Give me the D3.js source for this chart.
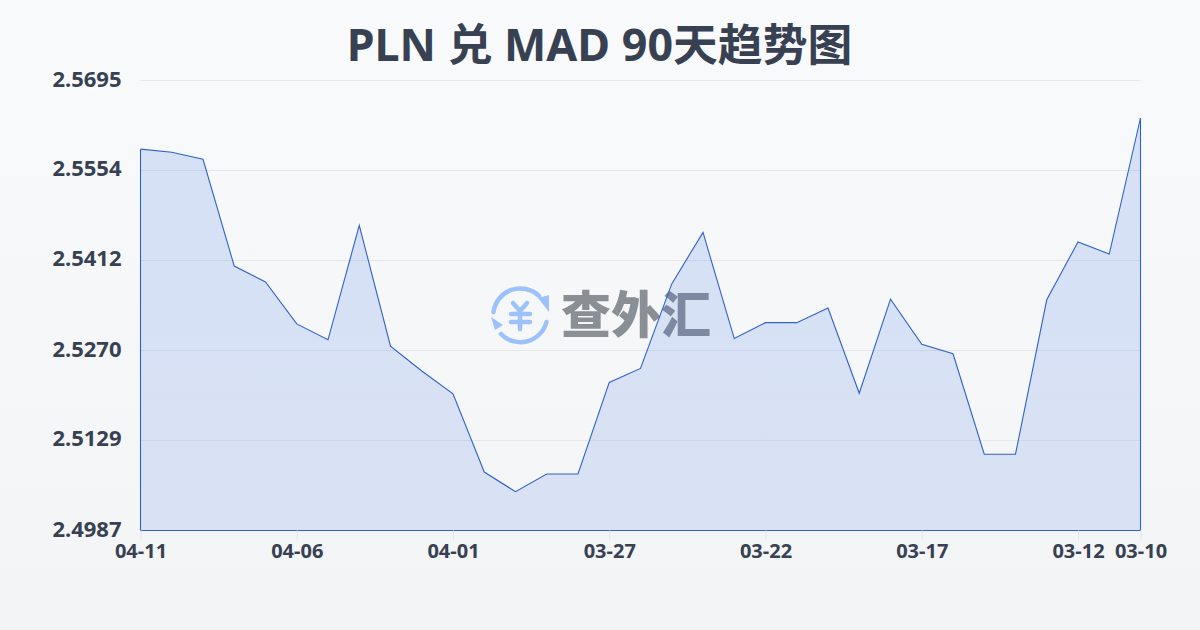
<!DOCTYPE html>
<html><head><meta charset="utf-8">
<script src="https://cdn.jsdelivr.net/npm/d3@7"></script>
<style>html,body{margin:0;padding:0;width:1200px;height:630px;overflow:hidden}svg{display:block}</style>
</head><body><svg id="c" width="1200" height="630"></svg>
<script>
const titleText = "PLN 兑 MAD 90天趋势图";
const dates = ["04-11","04-10","04-09","04-08","04-07","04-06","04-05","04-04","04-03","04-02","04-01","03-31","03-30","03-29","03-28","03-27","03-26","03-25","03-24","03-23","03-22","03-21","03-20","03-19","03-18","03-17","03-16","03-15","03-14","03-13","03-12","03-11","03-10"];
const rates = [2.5587,2.5582,2.5571,2.5403,2.5378,2.5312,2.5287,2.5467,2.5277,2.5238,2.5202,2.5079,2.5048,2.5076,2.5076,2.5220,2.5242,2.5375,2.5456,2.5289,2.5314,2.5314,2.5337,2.5203,2.5351,2.5280,2.5265,2.5107,2.5107,2.5350,2.5441,2.5422,2.5636];
const yTicks = [2.4987,2.5129,2.5270,2.5412,2.5554,2.5695];
const xTicks = ["04-11","04-06","04-01","03-27","03-22","03-17","03-12","03-10"];

const font = '"Noto Sans","Noto Sans CJK SC",sans-serif';
const svg = d3.select("#c");
const defs = svg.append("defs");
const bg = defs.append("linearGradient").attr("id","bg").attr("x1",0).attr("y1",0).attr("x2",0).attr("y2",1);
bg.append("stop").attr("offset",0).attr("stop-color","#f8fafc");
bg.append("stop").attr("offset",1).attr("stop-color","#f2f4f6");
const af = defs.append("linearGradient").attr("id","af").attr("x1",0).attr("y1",0).attr("x2",0).attr("y2",1);
af.append("stop").attr("offset",0).attr("stop-color","#2563d6").attr("stop-opacity",0.16);
af.append("stop").attr("offset",1).attr("stop-color","#4670e4").attr("stop-opacity",0.15);
svg.append("rect").attr("width",1200).attr("height",630).attr("fill","url(#bg)");

const x = d3.scalePoint().domain(dates).range([140.5,1140.5]);
const y = d3.scaleLinear().domain([2.4987,2.5695]).range([530.5,80.5]);

svg.append("text").attr("x",599.5).attr("y",60.5).attr("text-anchor","middle")
  .attr("font-family",font).attr("font-weight",700).attr("font-size",44.8).attr("fill","#374151").text(titleText);

// watermark
const wm = svg.append("g");
const logo = wm.append("g").attr("transform","translate(520,315)").attr("fill","none").attr("stroke","#9dc1fb").attr("stroke-linecap","round");
logo.append("path").attr("stroke-width",4.5).attr("d","M-26.5,-3 A27,27 0 0 1 19,-19");
logo.append("path").attr("stroke-width",4.5).attr("d","M26.5,7 A27,27 0 0 1 -19,19");
logo.append("path").attr("stroke","none").attr("fill","#9dc1fb").attr("d","M18,-17 L29,-20 L29,-3 Z");
logo.append("path").attr("stroke","none").attr("fill","#9dc1fb").attr("d","M-29,2 L-17,10 L-25,15 Z");
logo.append("path").attr("stroke-width",4.5).attr("d","M-7,-12 L0,-4 L7,-12 M-9,-1 H10 M-9,7 H10 M0,-4 V14");
wm.append("text").attr("x",636).attr("y",333).attr("text-anchor","middle")
  .attr("font-family",'"Noto Sans CJK SC",sans-serif').attr("font-weight",900).attr("font-size",50)
  .attr("fill","#8a8f96").text("查外汇");

// grid
svg.append("g").selectAll("line").data(yTicks).join("line")
  .attr("x1",140.5).attr("x2",1140.5).attr("y1",d=>Math.floor(y(d))+0.5).attr("y2",d=>Math.floor(y(d))+0.5)
  .attr("stroke","#e5e7eb").attr("stroke-width",1);

// area + line
const area = d3.area().x((d,i)=>x(dates[i])).y0(y.range()[0]).y1(d=>y(d));
svg.append("path").datum(rates).attr("d",area).attr("fill","url(#af)");
const line = d3.line().x((d,i)=>x(dates[i])).y(d=>y(d));
const stroke = "#2f62c8";
svg.append("path").datum(rates).attr("d",line).attr("fill","none").attr("stroke",stroke).attr("stroke-width",1.1);
svg.append("line").attr("x1",140.5).attr("x2",140.5).attr("y1",y(rates[0])).attr("y2",530.5).attr("stroke",stroke).attr("stroke-width",1.1);
svg.append("line").attr("x1",1140.5).attr("x2",1140.5).attr("y1",y(rates[rates.length-1])).attr("y2",530.5).attr("stroke",stroke).attr("stroke-width",1.1);
svg.append("line").attr("x1",140.5).attr("x2",1140.5).attr("y1",530.5).attr("y2",530.5).attr("stroke",stroke).attr("stroke-width",1.1);

// axes
const xa = svg.append("g").attr("transform","translate(0,530.5)")
  .call(d3.axisBottom(x).tickValues(xTicks).tickSize(10).tickPadding(3));
xa.select(".domain").remove();
xa.selectAll("line").attr("stroke","#e5e7eb");
xa.selectAll("text").attr("font-family",font).attr("font-weight",700).attr("font-size",20).attr("fill","#374151");
const ya = svg.append("g").attr("transform","translate(121.5,0)")
  .call(d3.axisLeft(y).tickValues(yTicks).tickSize(0).tickPadding(0).tickFormat(d3.format(".4f")));
ya.select(".domain").remove();
ya.selectAll("text").attr("font-family",font).attr("font-weight",700).attr("font-size",22).attr("fill","#374151").attr("dy","0.25em");
</script></body></html>
